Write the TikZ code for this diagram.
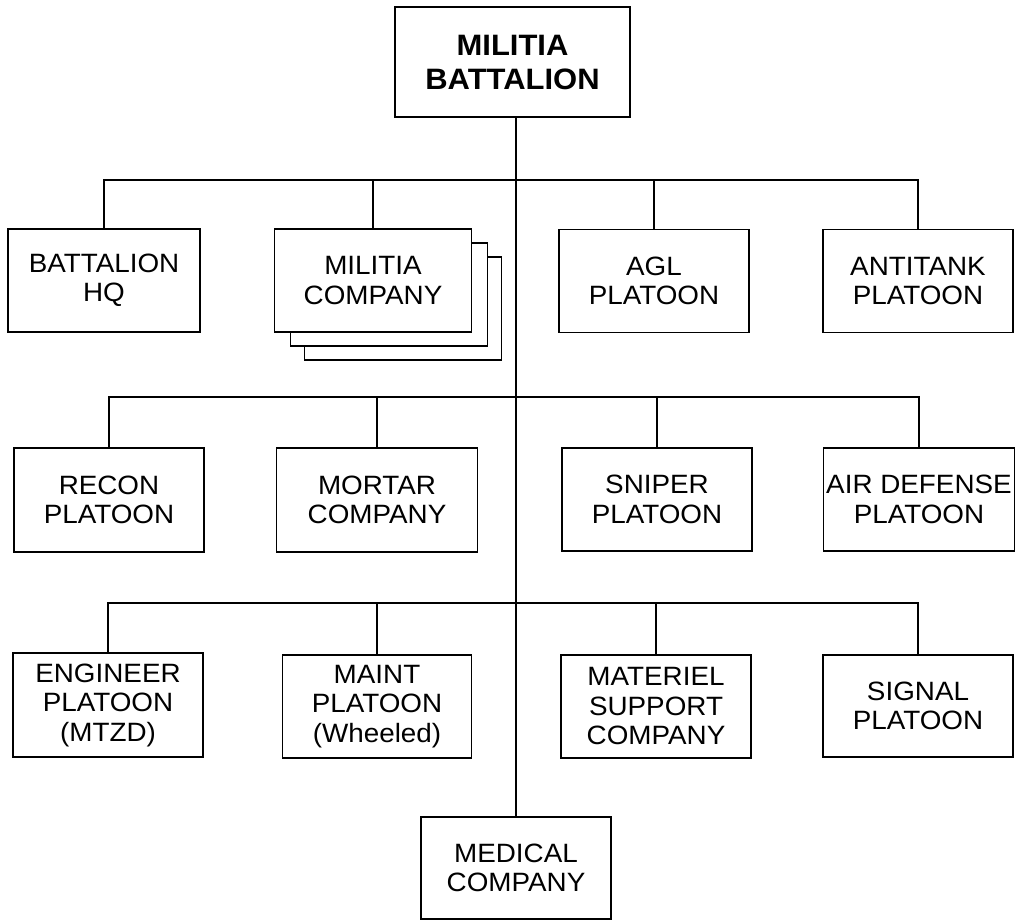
\documentclass[tikz,border=0pt]{standalone}
\usepackage{fontspec}
\setmainfont{Liberation Sans}[FakeStretch=1.05]
\begin{document}
\begin{tikzpicture}[x=1pt,y=-1pt,
  unitbox/.style={draw,line width=1.3pt,fill=white,rectangle,inner sep=0pt,align=center,
    minimum width=190pt,minimum height=103pt,font=\fontsize{26.5}{29.5}\selectfont},
  topbox/.style={unitbox,minimum width=235pt,minimum height=110pt,font=\fontsize{29.5}{34}\selectfont\bfseries},
  shadowbox/.style={draw,line width=1.3pt,fill=white,rectangle,inner sep=0pt,minimum width=197pt,minimum height=103pt},
  link/.style={line width=1.3pt}]
\useasboundingbox (0,0) rectangle (1017,920);
% top
\node[topbox] (top) at (512.5,62) {MILITIA\\BATTALION};
\node[unitbox,minimum height=102pt] (med) at (516,868) {MEDICAL\\COMPANY};
\draw[link] (top.south -| med.north) -- (med.north);
% row 1
\node[unitbox,minimum width=192pt] (bhq) at (104,280.5) {BATTALION\\HQ};
\node[shadowbox] (mc3) at (403,308.5) {};
\node[shadowbox] (mc2) at (389,294.5) {};
\node[unitbox,minimum width=197pt] (mc) at (373,280.5) {MILITIA\\COMPANY};
\node[unitbox] (agl) at (654,281) {AGL\\PLATOON};
\node[unitbox] (at) at (918,281) {ANTITANK\\PLATOON};
\coordinate (r1) at (516,180);
\draw[link] (bhq.north) -- (bhq.north |- r1) -- (at.north |- r1) -- (at.north);
\draw[link] (mc.north) -- (mc.north |- r1);
\draw[link] (agl.north) -- (agl.north |- r1);
% row 2
\node[unitbox,minimum height=104pt] (recon) at (109,500) {RECON\\PLATOON};
\node[unitbox,minimum width=201pt,minimum height=104pt] (mortar) at (377,500) {MORTAR\\COMPANY};
\node[unitbox] (sniper) at (657,499.5) {SNIPER\\PLATOON};
\node[unitbox,minimum width=191pt] (ad) at (919,499.5) {AIR DEFENSE\\PLATOON};
\coordinate (r2) at (516,397);
\draw[link] (recon.north) -- (recon.north |- r2) -- (ad.north |- r2) -- (ad.north);
\draw[link] (mortar.north) -- (mortar.north |- r2);
\draw[link] (sniper.north) -- (sniper.north |- r2);
% row 3
\node[unitbox,minimum height=104pt] (eng) at (108,705) {ENGINEER\\PLATOON\\(MTZD)};
\node[unitbox,minimum width=189pt] (maint) at (377,706.5) {MAINT\\PLATOON\\(Wheeled)};
\node[unitbox] (mat) at (656,706.5) {MATERIEL\\SUPPORT\\COMPANY};
\node[unitbox,minimum height=102pt] (sig) at (918,706) {SIGNAL\\PLATOON};
\coordinate (r3) at (516,603);
\draw[link] (eng.north) -- (eng.north |- r3) -- (sig.north |- r3) -- (sig.north);
\draw[link] (maint.north) -- (maint.north |- r3);
\draw[link] (mat.north) -- (mat.north |- r3);
\end{tikzpicture}
\end{document}
